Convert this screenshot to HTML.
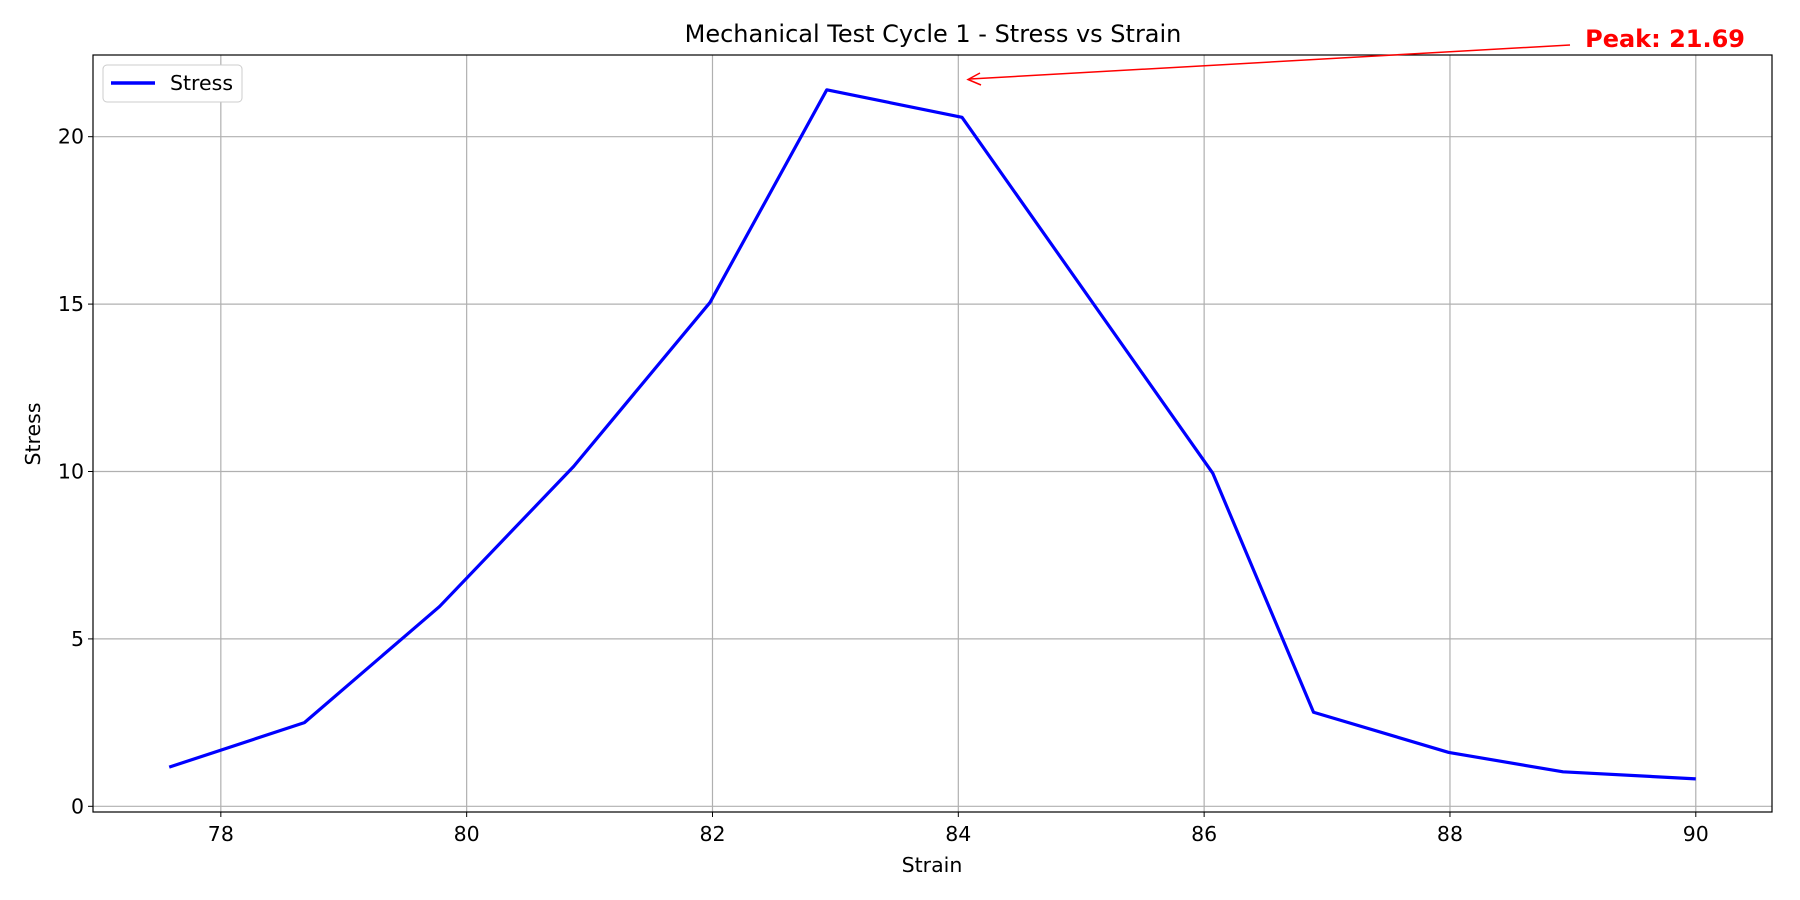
<!DOCTYPE html>
<html><head><meta charset="utf-8"><style>
html,body{margin:0;padding:0;background:#fff}
svg{display:block;font-family:"DejaVu Sans","Liberation Sans",sans-serif}
</style></head><body>
<svg id="chart" width="1800" height="900" viewBox="0 0 1800 900">
<rect width="1800" height="900" fill="#fff"/>
<g id="grid"></g>
<g id="plot"></g>
<g id="ticks"></g>
<rect x="93" y="55" width="1679" height="757" fill="none" stroke="#000" stroke-width="1.2"/>
<text x="933" y="42" text-anchor="middle" font-size="24">Mechanical Test Cycle 1 - Stress vs Strain</text>
<text x="932" y="872" text-anchor="middle" font-size="20.5">Strain</text>
<text transform="translate(40,434) rotate(-90)" text-anchor="middle" font-size="20.5">Stress</text>
<g>
<rect x="103" y="65" width="139" height="37" rx="4" fill="#fff" stroke="#ccc"/>
<line x1="111" y1="83" x2="155" y2="83" stroke="#0000ff" stroke-width="3.5"/>
<text x="170" y="90" font-size="20.5">Stress</text>
</g>
<g>
<line x1="1570" y1="45" x2="970" y2="79" stroke="#ff0000" stroke-width="1.5"/>
<path d="M980 73 L968 79.5 L981 85" fill="none" stroke="#ff0000" stroke-width="1.5"/>
<text x="1745" y="47" text-anchor="end" font-size="24" font-weight="bold" fill="#ff0000">Peak: 21.69</text>
</g>
</svg>
<script>
const strain=[77.58,78.68,79.78,80.87,81.98,82.93,84.03,86.07,86.89,87.99,88.92,90.0];
const stress=[1.17,2.5,5.97,10.15,15.05,21.4,20.58,9.95,2.81,1.61,1.03,0.82];
const xTicks=[78,80,82,84,86,88,90];
const yTicks=[0,5,10,15,20];
const L=93,R=1772,T=55,B=812;
const x0=76.96,x1=90.62,y0=-0.17,y1=22.44;
const sx=v=>L+(v-x0)/(x1-x0)*(R-L);
const sy=v=>B-(v-y0)/(y1-y0)*(B-T);
const NS='http://www.w3.org/2000/svg';
const grid=document.getElementById('grid'),ticks=document.getElementById('ticks'),plot=document.getElementById('plot');
function mk(t,a,p){const e=document.createElementNS(NS,t);for(const k in a)e.setAttribute(k,a[k]);p.appendChild(e);return e;}
xTicks.forEach(v=>{const x=sx(v);
 const g=mk('line',{x1:x,x2:x,y1:T,y2:B,stroke:'#b0b0b0','stroke-width':1.2},grid);
 
 
 mk('line',{x1:x,x2:x,y1:B,y2:B+5,stroke:'#000'},ticks);
 const t=mk('text',{x:x,y:B+29,'text-anchor':'middle','font-size':20.5},ticks);t.textContent=v;
 
 });
yTicks.forEach(v=>{const y=sy(v);
 const g=mk('line',{x1:L,x2:R,y1:y,y2:y,stroke:'#b0b0b0','stroke-width':1.2},grid);
 
 
 mk('line',{x1:L-5,x2:L,y1:y,y2:y,stroke:'#000'},ticks);
 const t=mk('text',{x:L-9,y:y+7,'text-anchor':'end','font-size':20.5},ticks);t.textContent=v;
 
 });
const pl=mk('polyline',{points:strain.map((v,i)=>sx(v)+','+sy(stress[i])).join(' '),fill:'none',stroke:'#0000ff','stroke-width':3.2,'stroke-linejoin':'round'},plot);


</script>
</body></html>
